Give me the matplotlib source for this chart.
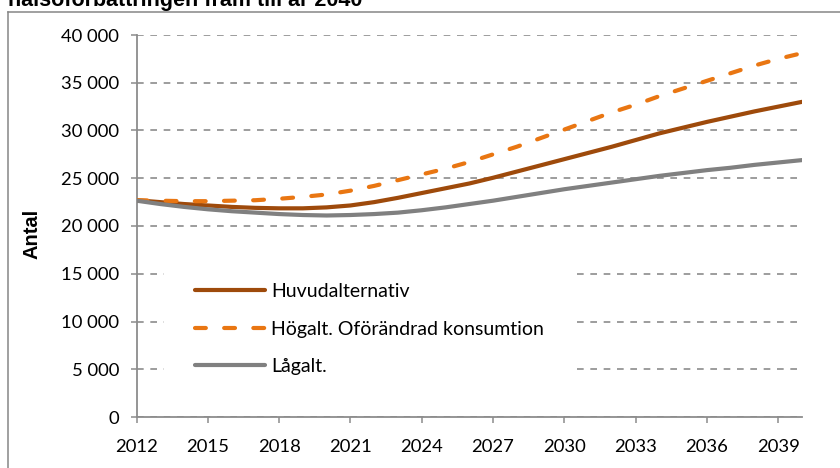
import matplotlib
matplotlib.use("Agg")
import matplotlib.pyplot as plt
from matplotlib.ticker import FuncFormatter, FixedLocator
from matplotlib.lines import Line2D

years = list(range(2012, 2041))
huvud = [22700, 22500, 22300, 22150, 22000, 21900, 21850, 21850, 21950, 22150,
         22500, 22950, 23450, 23950, 24450, 25050, 25700, 26350, 27000, 27650,
         28300, 29000, 29700, 30300, 30900, 31450, 32000, 32500, 33000]
hogalt = [22700, 22650, 22600, 22600, 22650, 22700, 22850, 23050, 23300, 23700,
          24200, 24800, 25400, 26000, 26700, 27500, 28300, 29200, 30100, 31000,
          31900, 32700, 33600, 34400, 35200, 36000, 36800, 37500, 38100]
lagalt = [22650, 22300, 22000, 21750, 21550, 21400, 21250, 21150, 21100, 21150,
          21250, 21400, 21650, 21950, 22300, 22650, 23050, 23450, 23850, 24200,
          24550, 24900, 25250, 25550, 25850, 26100, 26400, 26650, 26900]
series_labels = ["Huvudalternativ", "Högalt. Oförändrad konsumtion", "Lågalt."]
xticks = list(range(2012, 2040, 3))
yticks = list(range(0, 40001, 5000))
title = "hälsoförbättringen fram till år 2040"
ylabel = "Antal"

W, H = 840, 468
fig = plt.figure(figsize=(W / 100, H / 100), dpi=100)

# outer chart frame (partially cropped)
frame_col = "#868686"
fig.add_artist(Line2D([8 / W, 8 / W], [0, 1 - 12 / H], color=frame_col, lw=1.1,
                      transform=fig.transFigure))
fig.add_artist(Line2D([8 / W, 1], [1 - 12 / H, 1 - 12 / H], color=frame_col, lw=1.1,
                      transform=fig.transFigure))

fig.text(8 / W, 1 - 6 / H, title, fontsize=15.5, fontweight="bold",
         family="Liberation Sans", va="baseline", ha="left")

ax = fig.add_axes([136.5 / W, 1 - 417 / H, (802 - 136.5) / W, (417 - 35) / H])

tick_font = "Lato"
fs = 13.3
fs_leg = 14
c_brown = "#9E4A0B"
c_orange = "#E97612"
c_gray = "#808080"
grid_col = "#8C8C8C"

ax.plot(years, huvud, color=c_brown, lw=3.0, solid_capstyle="round",
        label=series_labels[0], zorder=3)
ax.plot(years, hogalt, color=c_orange, lw=3.0, dashes=(2.6, 4.4),
        dash_capstyle="round", label=series_labels[1], zorder=3)
ax.plot(years, lagalt, color=c_gray, lw=3.0, solid_capstyle="round",
        label=series_labels[2], zorder=3)

ax.set_xlim(2012, 2040)
ax.set_ylim(0, 40000)
ax.xaxis.set_major_locator(FixedLocator(xticks))
ax.yaxis.set_major_locator(FixedLocator(yticks))
ax.yaxis.set_major_formatter(FuncFormatter(lambda v, p: f"{int(v):,}".replace(",", " ")))

for s in ["top", "right"]:
    ax.spines[s].set_visible(False)
for s in ["left", "bottom"]:
    ax.spines[s].set_color(grid_col)
    ax.spines[s].set_linewidth(1.3)

ax.tick_params(axis="both", direction="out", length=4.5, width=1.1, color=grid_col,
               labelsize=fs, labelcolor="black")
ax.tick_params(axis="y", pad=8)
ax.tick_params(axis="x", pad=11.5)
for lab in ax.get_xticklabels() + ax.get_yticklabels():
    lab.set_family(tick_font)

ax.yaxis.grid(True, color=grid_col, lw=1.2, linestyle=(0, (4, 4)), zorder=1)
ax.set_axisbelow(True)

ax.set_ylabel(ylabel, fontsize=14.5, fontweight="bold", family="Liberation Sans")
ax.yaxis.set_label_coords((41 - 136.5) / (802 - 136.5), (417 - 234) / (417 - 35))

leg = ax.legend(loc="upper left", bbox_to_anchor=(164 / W, 1 - 252 / H),
                bbox_transform=fig.transFigure, frameon=True, fancybox=False,
                prop={"family": tick_font, "size": fs_leg}, handlelength=3.6,
                handletextpad=0.3, labelspacing=1.05, borderpad=1.6,
                borderaxespad=0)
leg.get_frame().set_facecolor("white")
leg.get_frame().set_edgecolor("none")
leg.get_frame().set_alpha(1)
leg.set_zorder(2)

fig.savefig("out.png", dpi=100)
